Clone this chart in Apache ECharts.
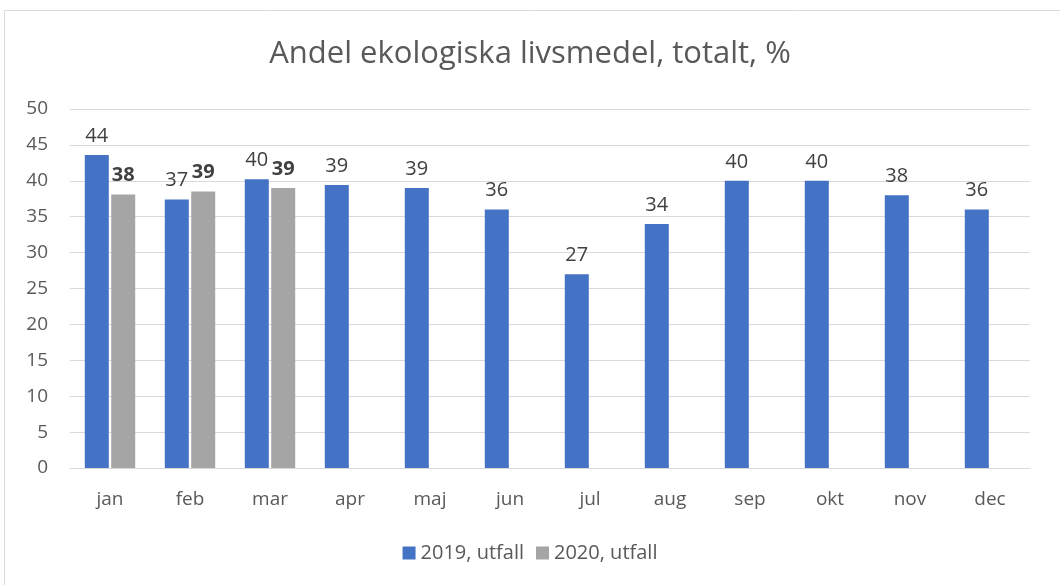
<!DOCTYPE html>
<html lang="sv">
<head>
    <meta charset="UTF-8">
    <title>Andel ekologiska livsmedel</title>
    <script src="https://cdn.jsdelivr.net/npm/echarts@6/dist/echarts.min.js"></script>
</head>
<body style="margin:0">
<div class="main" style="width:1060px;height:585px"></div>
<script>
    var months = ["jan", "feb", "mar", "apr", "maj", "jun", "jul", "aug", "sep", "okt", "nov", "dec"];
    var utfall2019 = [43.6, 37.4, 40.2, 39.4, 39.0, 36.0, 27.0, 34.0, 40.0, 40.0, 38.0, 36.0];
    var utfall2020 = [38.1, 38.5, 39.0];
    var yTicks = [0, 5, 10, 15, 20, 25, 30, 35, 40, 45, 50];

    var font = "Open Sans";
    var chart = echarts.init(document.querySelector(".main"));

    var option = {
        backgroundColor: "#fff",
        textStyle: {fontFamily: font},
        graphic: [{
            type: "rect",
            shape: {x: 4.5, y: 10.5, width: 1070, height: 600},
            style: {fill: null, stroke: "#d9d9d9", lineWidth: 1},
            silent: true
        }],
        title: {
            text: "Andel ekologiska livsmedel, totalt, %",
            left: "center",
            top: 34,
            textStyle: {fontFamily: font, fontSize: 31, fontWeight: "normal", color: "#595959"}
        },
        legend: {
            bottom: 17,
            left: "center",
            itemWidth: 13,
            itemHeight: 13,
            itemGap: 12,
            icon: "rect",
            textStyle: {fontFamily: font, fontSize: 20, color: "#595959"},
            data: ["2019, utfall", "2020, utfall"]
        },
        grid: {left: 70, right: 30, top: 109, bottom: 117},
        xAxis: {
            type: "category",
            data: months,
            axisTick: {show: false},
            axisLine: {lineStyle: {color: "#d9d9d9", width: 1}},
            axisLabel: {fontFamily: font, fontSize: 19, color: "#595959", margin: 22}
        },
        yAxis: {
            type: "value",
            min: yTicks[0],
            max: yTicks[yTicks.length - 1],
            interval: 5,
            axisLabel: {fontFamily: font, fontSize: 19, color: "#595959", margin: 22},
            splitLine: {lineStyle: {color: "#d9d9d9", width: 1}}
        },
        series: [{
            name: "2019, utfall",
            type: "bar",
            data: utfall2019,
            barWidth: 24,
            barGap: "10%",
            itemStyle: {color: "#4472c4"},
            label: {
                show: true,
                position: "top",
                distance: 9,
                fontFamily: font,
                fontSize: 20,
                color: "#404040",
                formatter: function (p) { return Math.round(p.value); }
            }
        }, {
            name: "2020, utfall",
            type: "bar",
            data: utfall2020,
            barWidth: 24,
            itemStyle: {color: "#a5a5a5"},
            label: {
                show: true,
                position: "top",
                distance: 9,
                fontFamily: font,
                fontSize: 20,
                fontWeight: "bold",
                color: "#404040",
                formatter: function (p) { return Math.round(p.value); }
            }
        }]
    };

    chart.setOption(option);
</script>
</body>
</html>
